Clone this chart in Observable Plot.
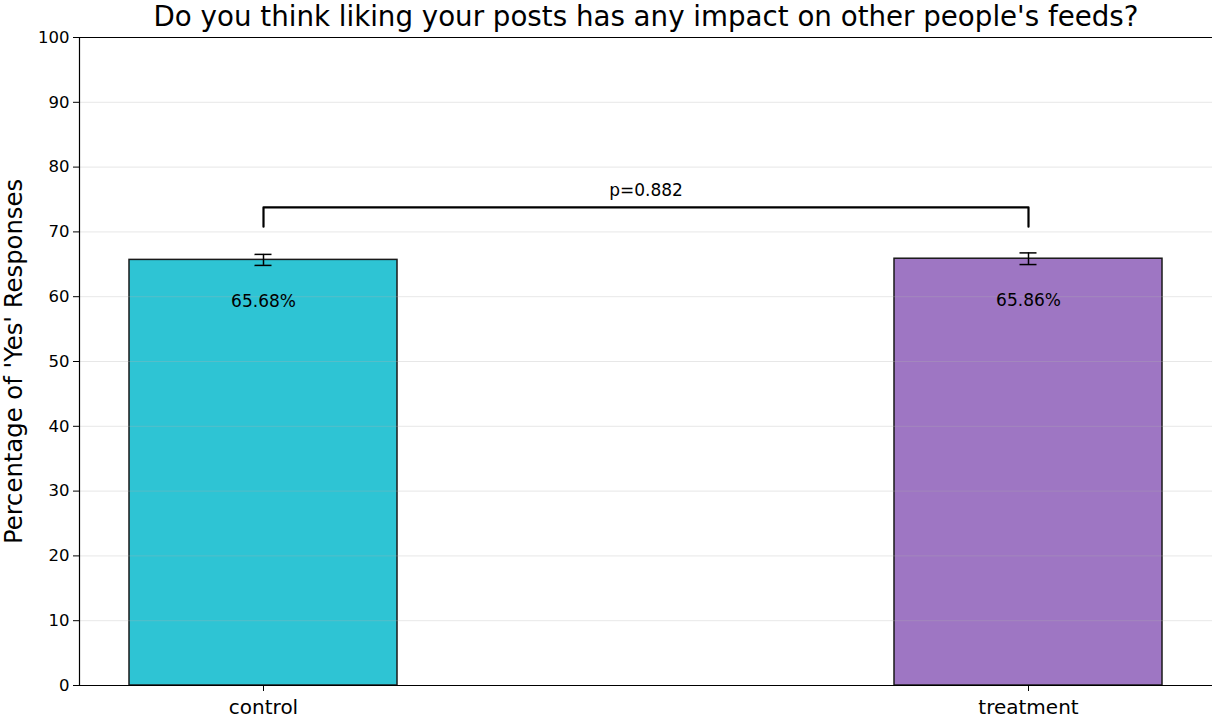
<!DOCTYPE html>
<html><head><meta charset="utf-8">
<script src="https://cdn.jsdelivr.net/npm/d3@7"></script>
<script src="https://cdn.jsdelivr.net/npm/@observablehq/plot@0.6"></script>
<style>body{margin:0;background:#fff;} svg{font-family:"DejaVu Sans",sans-serif;}</style>
</head><body><div id="chart"></div>
<script>
const groups = ["control", "treatment"];
const pctYes = [65.68, 65.86];
const errHalf = [0.85, 0.9];
const barColors = ["#17becf", "#9467bd"];
const yTicks = [0, 10, 20, 30, 40, 50, 60, 70, 80, 90, 100];
const titleText = "Do you think liking your posts has any impact on other people's feeds?";
const yLabel = "Percentage of 'Yes' Responses";
const pText = "p=0.882";
const bracketBase = 70.8;
const bracketTop = 73.8;
const pLabelY = 76.4;

const data = groups.map((g, i) => ({group: g, pct: pctYes[i], err: errHalf[i]}));
const bracket = [
  {x: groups[0], y: bracketBase}, {x: groups[0], y: bracketTop},
  {x: groups[1], y: bracketTop}, {x: groups[1], y: bracketBase}
];

const chart = Plot.plot({
  width: 1213,
  height: 719,
  marginLeft: 79,
  marginRight: 1,
  marginTop: 37,
  marginBottom: 34,
  style: {fontFamily: "DejaVu Sans, sans-serif", background: "#fff"},
  x: {domain: groups, paddingInner: 0.65, paddingOuter: 0.065, label: null},
  y: {domain: [0, 100], label: null},
  color: {domain: groups, range: barColors},
  marks: [
    Plot.barY(data, {x: "group", y: "pct", fill: "group", fillOpacity: 0.9, stroke: "#1a1a1a", strokeWidth: 1.5}),
    Plot.gridY(yTicks, {stroke: "#b0b0b0", strokeOpacity: 0.3, strokeWidth: 1}),
    Plot.ruleX(data, {x: "group", y1: d => d.pct - d.err, y2: d => d.pct + d.err, stroke: "#000", strokeWidth: 1.5}),
    Plot.tickY(data, {x: "group", y: d => d.pct - d.err, insetLeft: 125.5, insetRight: 125.5, stroke: "#000", strokeWidth: 1.5}),
    Plot.tickY(data, {x: "group", y: d => d.pct + d.err, insetLeft: 125.5, insetRight: 125.5, stroke: "#000", strokeWidth: 1.5}),
    Plot.text(data, {x: "group", y: "pct", text: d => d.pct.toFixed(2) + "%", dy: 42, fontSize: 17, fill: "#000"}),
    Plot.line(bracket, {x: "x", y: "y", stroke: "#000", strokeWidth: 2.2}),
    Plot.text([pText], {y: () => pLabelY, text: d => d, frameAnchor: "middle", fontSize: 17, fill: "#000"}),
    Plot.text([titleText], {text: d => d, frameAnchor: "top", dy: -20, lineAnchor: "middle", fontSize: 27.7, fill: "#000"}),
    Plot.text([yLabel], {text: d => d, frameAnchor: "left", textAnchor: "middle", rotate: -90, dx: -65, fontSize: 24.3, fill: "#000"}),
    Plot.axisY({ticks: yTicks, tickSize: 6, tickPadding: 4, fontSize: 16.5, label: null, tickFormat: d => d}),
    Plot.axisX({tickSize: 6, tickPadding: 8, fontSize: 20, label: null}),
    Plot.ruleY([0, 100], {stroke: "#000", strokeWidth: 1.2}),
    Plot.frame({anchor: "left", stroke: "#000", strokeWidth: 1.2})
  ]
});
document.getElementById("chart").appendChild(chart);
</script>
</body></html>
